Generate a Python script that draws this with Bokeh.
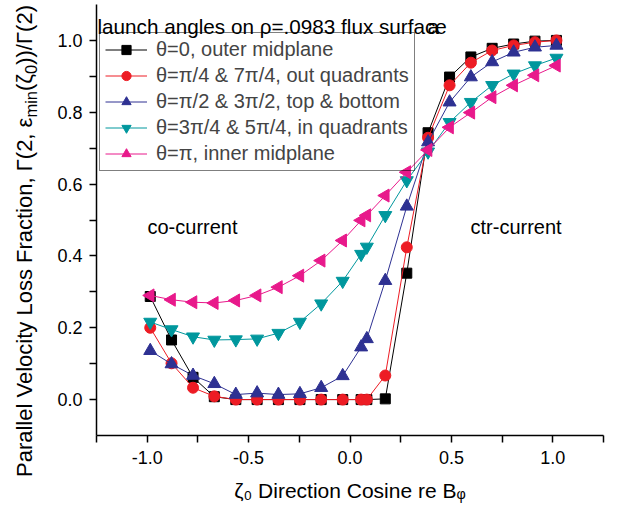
import math
from bokeh.plotting import figure
from bokeh.layouts import row
from bokeh.models import FixedTicker, NumeralTickFormatter, Legend, LegendItem, Label, Div
from bokeh.embed import file_html
from bokeh.resources import INLINE

# ---- data ----
zeta = [-0.985, -0.880, -0.774, -0.669, -0.563, -0.458, -0.353, -0.247, -0.142, -0.036,
        0.055, 0.083, 0.174, 0.280, 0.385, 0.491, 0.596, 0.701, 0.807, 0.912, 1.018]

outer_midplane = [0.287, 0.166, 0.062, 0.008, 0.0, 0.0, 0.0, 0.0, 0.0, 0.0,
                  0.0, 0.0, 0.002, 0.352, 0.743, 0.898, 0.954, 0.978, 0.990, 0.998, 1.0]
out_quadrants = [0.200, 0.101, 0.033, 0.009, 0.0, 0.0, 0.0, 0.0, 0.0, 0.0,
                 0.0, 0.0, 0.067, 0.424, 0.729, 0.875, 0.938, 0.972, 0.986, 0.995, 1.0]
top_bottom = [0.136, 0.099, 0.067, 0.044, 0.014, 0.018, 0.014, 0.016, 0.033, 0.066,
              0.146, 0.169, 0.331, 0.538, 0.717, 0.828, 0.898, 0.940, 0.967, 0.981, 0.986]
in_quadrants = [0.216, 0.195, 0.175, 0.166, 0.167, 0.169, 0.185, 0.216, 0.267, 0.330,
                0.405, 0.425, 0.513, 0.610, 0.690, 0.772, 0.828, 0.875, 0.907, 0.930, 0.951]
inner_midplane = [0.290, 0.278, 0.271, 0.269, 0.276, 0.290, 0.313, 0.345, 0.387, 0.443,
                  0.499, 0.513, 0.568, 0.633, 0.695, 0.758, 0.799, 0.842, 0.875, 0.903, 0.930]

series_labels = ["θ=0, outer midplane",
                 "θ=π/4 & 7π/4, out quadrants",
                 "θ=π/2 & 3π/2, top & bottom",
                 "θ=3π/4 & 5π/4, in quadrants",
                 "θ=π, inner midplane"]

x_major = [-1.0, -0.5, 0.0, 0.5, 1.0]
x_minor = [-1.25, -0.75, -0.25, 0.25, 0.75, 1.25]
y_major = [0.0, 0.2, 0.4, 0.6, 0.8, 1.0]
y_minor = [0.1, 0.3, 0.5, 0.7, 0.9]

x_title = "ζ₀ Direction Cosine re Bᵩ"
y_title_html = ("Parallel Velocity Loss Fraction, Γ(2, ε<sub>min</sub>"
                "(ζ<sub>0</sub>))/Γ(2)")

FONT = "Liberation Sans"
LABEL_W = 40   # width of the narrow strip that carries the y-axis title

# ---- main plot ----
p = figure(width=643 - LABEL_W, height=516, x_range=(-1.25, 1.25), y_range=(-0.1, 1.1),
           output_backend="svg", toolbar_location=None,
           min_border_left=96 - LABEL_W, min_border_right=40,
           min_border_top=4, min_border_bottom=81, margin=0)
p.xgrid.visible = False
p.ygrid.visible = False
p.outline_line_color = None
p.background_fill_color = "white"

for ax in (p.xaxis[0], p.yaxis[0]):
    ax.axis_line_width = 1.5
    ax.axis_line_color = "black"
    ax.major_tick_out = 7
    ax.major_tick_in = 0
    ax.minor_tick_out = 7
    ax.minor_tick_in = 0
    ax.major_tick_line_width = 1.5
    ax.minor_tick_line_width = 1.5
    ax.major_label_text_font = FONT
    ax.major_label_text_font_size = "18px"
    ax.major_label_text_color = "black"
    ax.formatter = NumeralTickFormatter(format="0.0")
    ax.axis_label_text_font = FONT
    ax.axis_label_text_font_style = "normal"
    ax.axis_label_text_color = "black"

p.xaxis.ticker = FixedTicker(ticks=x_major, minor_ticks=x_minor)
p.yaxis.ticker = FixedTicker(ticks=y_major, minor_ticks=y_minor)
p.xaxis.major_label_standoff = 8
p.yaxis.major_label_standoff = 7

p.xaxis.axis_label = x_title
p.xaxis.axis_label_text_font_size = "21px"
p.xaxis.axis_label_standoff = 12

styles = [
    (outer_midplane, "#000000", "square", 10, 0.0),
    (out_quadrants, "#ED1C24", "circle", 11, 0.0),
    (top_bottom, "#2E3192", "triangle", 13, 0.0),
    (in_quadrants, "#00979D", "inverted_triangle", 13, 0.0),
    (inner_midplane, "#E8198B", "triangle", 13, math.pi / 2),
]

items = []
for (ys, color, marker, size, ang), lab in zip(styles, series_labels):
    lr = p.line(zeta, ys, line_color=color, line_width=1)
    sr = p.scatter(zeta, ys, marker=marker, size=size, angle=ang,
                   fill_color=color, line_color=color)
    items.append(LegendItem(label=lab, renderers=[lr, sr]))

legend = Legend(items=items, location=(3, 264),
                label_text_font=FONT, label_text_font_size="20px",
                glyph_width=42, glyph_height=23, label_height=23,
                spacing=3, padding=5, label_standoff=9, margin=0,
                border_line_color="black", border_line_width=1,
                background_fill_alpha=0.0)
p.add_layout(legend)

def lab(text, px, py, size):
    # px, py: canvas pixel positions; converted to frame-relative screen units
    p.add_layout(Label(x=px - 96, y=435 - py, x_units="screen", y_units="screen",
                       text=text, text_font=FONT, text_font_size=size,
                       text_color="black", text_align="left",
                       text_baseline="alphabetic"))

# title text and panel letter
lab("launch angles on ρ=.0983 flux surface", 97, 26, "20.7px")
lab("a", 427, 26, "20.7px")

# annotations
lab("co-current", 147, 226, "20px")
lab("ctr-current", 470, 226, "20px")

# ---- narrow strip holding the rotated y-axis title ----
ylab_html = (
    '<div style="transform-origin:0 0; transform:translate(14px, 477px) rotate(-90deg);'
    ' white-space:nowrap; font-family:\'Liberation Sans\', Arial, sans-serif;'
    ' font-size:22px; line-height:22px; color:#000; margin:0; padding:0;">'
    + y_title_html.replace("<sub>", '<sub style="font-size:0.75em; line-height:0;">')
    + '</div>'
)
ylab = Div(text=ylab_html, width=LABEL_W, height=516, margin=0)

layout = row(ylab, p, spacing=0)
open("out.html", "w").write(file_html(layout, INLINE))
